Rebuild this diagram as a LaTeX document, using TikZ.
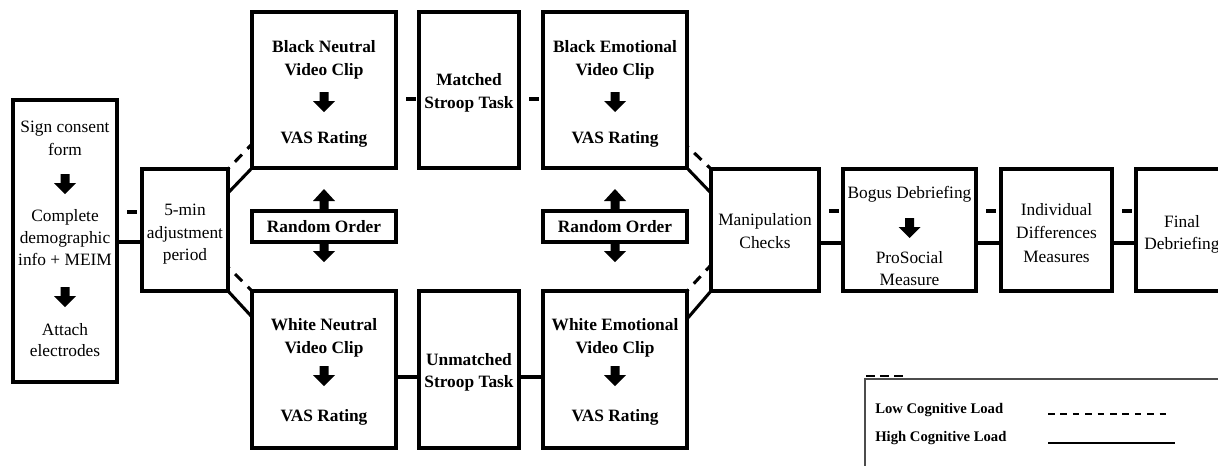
\documentclass[tikz,border=0pt]{standalone}
\usepackage{fontspec}
\setmainfont{Liberation Serif}
\usetikzlibrary{calc}
\begin{document}
\begin{tikzpicture}[x=0.75pt,y=-0.75pt,
  box/.style={draw, line width=2.3pt, inner sep=0pt, outer sep=0pt},
  sz/.style 2 args={minimum width=#1*0.75pt, minimum height=#2*0.75pt},
  tn/.style={anchor=base, inner sep=0pt, font=\fontsize{13}{16}\selectfont},
  tb/.style={anchor=base, inner sep=0pt, font=\fontsize{13}{16}\selectfont\bfseries},
  lg/.style={anchor=base west, inner sep=0pt, font=\fontsize{11}{13}\selectfont\bfseries},
  hi/.style={line width=2.3pt},
  lo/.style={line width=2.3pt, dash pattern=on 7.5pt off 6pt, dash phase=6pt},
  darr/.pic={\fill (-4.5,0) -- (4.5,0) -- (4.5,9) -- (11,9) -- (0,20) -- (-11,9) -- (-4.5,9) -- cycle;},
  uarr/.pic={\fill (-4.5,0) -- (4.5,0) -- (4.5,-10) -- (11,-10) -- (0,-22) -- (-11,-10) -- (-4.5,-10) -- cycle;},
]
\useasboundingbox (0,0) rectangle (1218,465);
\clip (0,0) rectangle (1218,465);

% ---------- boxes ----------
\node[box, sz={104}{282}] (c1) at (65,241) {};
\node[box, sz={86}{122}] (adj) at (185,230) {};
\node[box, sz={144}{156}] (bn) at (324,90) {};
\node[box, sz={100}{156}] (ms) at (469,90) {};
\node[box, sz={144}{156}] (be) at (615,90) {};
\node[box, sz={144}{31}] (ro1) at (324,226.5) {};
\node[box, sz={144}{31}] (ro2) at (615,226.5) {};
\node[box, sz={144}{157}] (wn) at (324,369.5) {};
\node[box, sz={100}{157}] (us) at (469,369.5) {};
\node[box, sz={144}{157}] (we) at (615,369.5) {};
\node[box, sz={108}{122}] (man) at (765,230) {};
\node[box, sz={133}{122}] (bog) at (909.5,230) {};
\node[box, sz={111}{122}] (ind) at (1056.5,230) {};
\node[box, sz={92}{122}] (fin) at (1182,230) {};

% ---------- texts ----------
\node[tn] (c1a) at (65,132) {Sign consent};
\node[tn] (c1b) at (65,155) {form};
\pic at (65,174) {darr};
\node[tn] (c1c) at (65,221) {Complete};
\node[tn] (c1d) at (65,243) {demographic};
\node[tn] (c1e) at (65,265) {info + MEIM};
\pic at (65,287) {darr};
\node[tn] (c1f) at (65,335) {Attach};
\node[tn] (c1g) at (65,356) {electrodes};

\node[tn] (adja) at (185,215) {5-min};
\node[tn] (adjb) at (185,238) {adjustment};
\node[tn] (adjc) at (185,260) {period};

\node[tb] (bna) at (324,52) {Black Neutral};
\node[tb] (bnb) at (324,75) {Video Clip};
\pic at (324,92) {darr};
\node[tb] (bnc) at (324,143) {VAS Rating};

\node[tb] (msa) at (469,85) {Matched};
\node[tb] (msb) at (469,108) {Stroop Task};

\node[tb] (bea) at (615,52) {Black Emotional};
\node[tb] (beb) at (615,75) {Video Clip};
\pic at (615,92) {darr};
\node[tb] (bec) at (615,143) {VAS Rating};

\node[tb] (ro1t) at (324,232) {Random Order};
\pic at (ro1.north) {uarr};
\pic at (ro1.south) {darr};
\node[tb] (ro2t) at (615,232) {Random Order};
\pic at (ro2.north) {uarr};
\pic at (ro2.south) {darr};

\node[tb] (wna) at (324,330) {White Neutral};
\node[tb] (wnb) at (324,353) {Video Clip};
\pic at (324,366) {darr};
\node[tb] (wnc) at (324,421) {VAS Rating};

\node[tb] (usa) at (469,365) {Unmatched};
\node[tb] (usb) at (469,387) {Stroop Task};

\node[tb] (wea) at (615,330) {White Emotional};
\node[tb] (web) at (615,353) {Video Clip};
\pic at (615,366) {darr};
\node[tb] (wec) at (615,421) {VAS Rating};

\node[tn] (mana) at (765,225) {Manipulation};
\node[tn] (manb) at (765,248) {Checks};

\node[tn] (boga) at (909.5,198) {Bogus Debriefing};
\pic at (909.5,218) {darr};
\node[tn] (bogb) at (909.5,263) {ProSocial};
\node[tn] (bogc) at (909.5,285) {Measure};

\node[tn] (inda) at (1056.5,215) {Individual};
\node[tn] (indb) at (1056.5,238) {Differences};
\node[tn] (indc) at (1056.5,262) {Measures};

\node[tn] (fina) at (1182,227) {Final};
\node[tn] (finb) at (1182,249) {Debriefing};

% ---------- connectors ----------
\coordinate (yA) at (0,212);
\coordinate (yB) at (0,242);
\coordinate (yT) at (0,99);
\coordinate (yW) at (0,377);
\coordinate (yR) at (0,211);
\coordinate (yS) at (0,243);

\draw[lo] (c1.east |- yA) -- (adj.west |- yA);
\draw[hi] (c1.east |- yB) -- (adj.west |- yB);

\draw[lo] (adj.north east) -- ($(bn.south west)+(0,-24)$);
\draw[hi] ($(adj.north east)+(0,24)$) -- (bn.south west);
\draw[lo] ($(adj.south east)+(0,-24)$) -- (wn.north west);
\draw[hi] (adj.south east) -- ($(wn.north west)+(0,26)$);

\draw[lo] (bn.east |- yT) -- (ms.west |- yT);
\draw[lo] (ms.east |- yT) -- (be.west |- yT);
\draw[hi] (wn.east |- yW) -- (us.west |- yW);
\draw[hi] (us.east |- yW) -- (we.west |- yW);

\draw[lo] ($(be.south east)+(0,-22)$) -- (man.north west);
\draw[hi] (be.south east) -- ($(man.north west)+(0,24)$);
\draw[lo] (we.north east) -- ($(man.south west)+(0,-26)$);
\draw[hi] ($(we.north east)+(0,28)$) -- (man.south west);

\draw[lo] (man.east |- yR) -- (bog.west |- yR);
\draw[hi] (man.east |- yS) -- (bog.west |- yS);
\draw[lo] (bog.east |- yR) -- (ind.west |- yR);
\draw[hi] (bog.east |- yS) -- (ind.west |- yS);
\draw[lo] (ind.east |- yR) -- (fin.west |- yR);
\draw[hi] (ind.east |- yS) -- (fin.west |- yS);

% ---------- legend ----------
\draw[line width=2pt, dash pattern=on 7pt off 3.5pt] (866,376) -- (908,376);
\draw[line width=1pt, black!70] (865,379) rectangle (1240,480);
\node[lg] (lgl) at (875,413) {Low Cognitive Load};
\node[lg] (lgh) at (875,441) {High Cognitive Load};
\coordinate (l1a) at (1048,414);
\coordinate (l1b) at (1170,414);
\coordinate (l2a) at (1048,443);
\coordinate (l2b) at (1175,443);
\draw[line width=1.6pt, dash pattern=on 5pt off 4.3pt] (l1a) -- (l1b);
\draw[line width=2.2pt] (l2a) -- (l2b);
\end{tikzpicture}
\end{document}
